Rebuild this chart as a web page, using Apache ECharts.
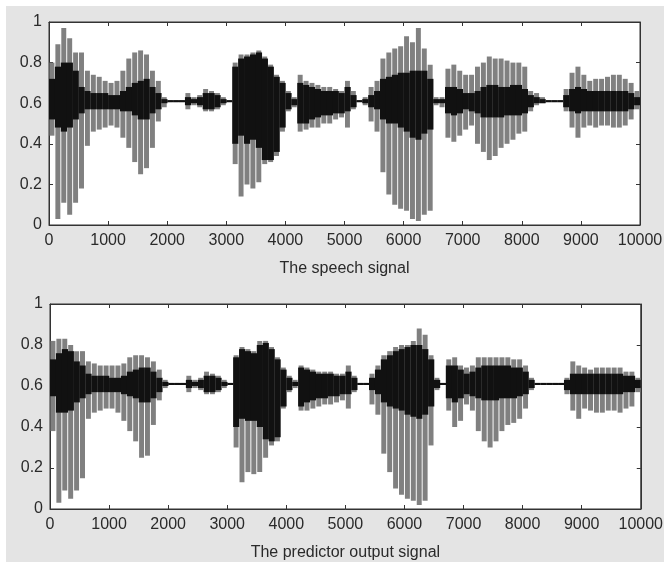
<!DOCTYPE html>
<html>
<head>
<meta charset="utf-8">
<script src="https://cdn.jsdelivr.net/npm/echarts@6/dist/echarts.min.js"></script>
<style>
html,body{margin:0;padding:0;background:#fff;}
#chart{width:666px;height:564px;}
</style>
</head>
<body>
<div id="chart"></div>
<script>
// x axis ticks
const xTicks = [0,1000,2000,3000,4000,5000,6000,7000,8000,9000,10000];
const yTicks = [0,0.2,0.4,0.6,0.8,1];
const binSize = 100; // samples per bin (bin i covers i*100 .. i*100+100)

// Top panel: "The speech signal" — envelope per 100-sample bin
const topMax = [0.80,0.89,0.97,0.92,0.85,0.85,0.76,0.74,0.73,0.71,
  0.70,0.71,0.76,0.82,0.85,0.86,0.84,0.76,0.71,0.63,
  0.615,0.615,0.615,0.65,0.63,0.64,0.67,0.66,0.65,0.63,
  0.615,0.80,0.84,0.84,0.85,0.86,0.83,0.79,0.74,0.71,
  0.66,0.63,0.74,0.71,0.70,0.69,0.68,0.68,0.67,0.66,
  0.71,0.66,0.615,0.63,0.68,0.71,0.82,0.85,0.87,0.88,
  0.93,0.90,0.97,0.87,0.79,0.63,0.63,0.77,0.79,0.76,
  0.74,0.74,0.78,0.80,0.83,0.82,0.82,0.81,0.80,0.80,
  0.78,0.66,0.65,0.63,0.615,0.615,0.615,0.67,0.75,0.78,
  0.74,0.71,0.72,0.72,0.73,0.74,0.74,0.72,0.70,0.66];
const topMin = [0.44,0.03,0.11,0.05,0.11,0.18,0.39,0.46,0.47,0.48,
  0.49,0.48,0.43,0.38,0.31,0.25,0.28,0.38,0.51,0.58,
  0.605,0.605,0.605,0.57,0.59,0.58,0.56,0.56,0.57,0.59,
  0.605,0.30,0.14,0.20,0.18,0.21,0.30,0.31,0.34,0.46,
  0.56,0.58,0.46,0.47,0.48,0.48,0.50,0.50,0.52,0.53,
  0.48,0.57,0.605,0.59,0.51,0.46,0.26,0.15,0.10,0.08,
  0.07,0.03,0.02,0.05,0.07,0.59,0.58,0.43,0.41,0.44,
  0.47,0.49,0.40,0.36,0.32,0.34,0.38,0.40,0.42,0.45,
  0.46,0.56,0.59,0.60,0.605,0.605,0.605,0.56,0.48,0.43,
  0.48,0.49,0.48,0.49,0.49,0.48,0.48,0.49,0.52,0.57];
const topHi = [0.72,0.78,0.80,0.80,0.76,0.68,0.66,0.65,0.65,0.65,
  0.64,0.64,0.66,0.68,0.70,0.71,0.72,0.68,0.65,0.62,
  0.615,0.615,0.615,0.63,0.62,0.63,0.65,0.65,0.64,0.62,
  0.615,0.78,0.82,0.83,0.84,0.85,0.82,0.78,0.73,0.70,
  0.65,0.62,0.70,0.69,0.68,0.67,0.66,0.66,0.66,0.65,
  0.68,0.64,0.615,0.62,0.64,0.66,0.72,0.73,0.74,0.75,
  0.75,0.76,0.76,0.76,0.72,0.62,0.62,0.68,0.68,0.67,
  0.65,0.65,0.66,0.68,0.69,0.69,0.68,0.68,0.69,0.69,
  0.67,0.64,0.63,0.62,0.615,0.615,0.615,0.64,0.67,0.68,
  0.67,0.66,0.66,0.66,0.66,0.66,0.66,0.66,0.65,0.63];
const topLo = [0.52,0.48,0.46,0.48,0.52,0.55,0.57,0.57,0.57,0.57,
  0.57,0.57,0.56,0.56,0.54,0.52,0.52,0.55,0.57,0.60,
  0.605,0.605,0.605,0.59,0.60,0.59,0.57,0.57,0.58,0.60,
  0.605,0.40,0.44,0.40,0.42,0.38,0.32,0.32,0.36,0.48,
  0.57,0.59,0.50,0.50,0.52,0.53,0.54,0.54,0.55,0.55,
  0.56,0.58,0.605,0.60,0.58,0.57,0.52,0.50,0.50,0.48,
  0.46,0.43,0.42,0.45,0.47,0.60,0.60,0.55,0.54,0.55,
  0.57,0.56,0.55,0.53,0.53,0.53,0.53,0.54,0.54,0.54,
  0.55,0.58,0.60,0.60,0.605,0.605,0.605,0.58,0.56,0.55,
  0.56,0.56,0.56,0.56,0.56,0.56,0.56,0.56,0.57,0.59];

// Bottom panel: "The predictor output signal"
const botMax = [0.82,0.83,0.83,0.80,0.77,0.77,0.72,0.71,0.70,0.70,
  0.70,0.70,0.71,0.74,0.75,0.75,0.74,0.72,0.68,0.63,
  0.615,0.615,0.615,0.65,0.63,0.64,0.67,0.66,0.65,0.63,
  0.615,0.75,0.79,0.78,0.77,0.82,0.82,0.79,0.74,0.69,
  0.65,0.63,0.70,0.69,0.68,0.67,0.67,0.67,0.66,0.66,
  0.70,0.65,0.615,0.615,0.66,0.70,0.75,0.77,0.79,0.80,
  0.80,0.82,0.88,0.85,0.75,0.64,0.615,0.73,0.74,0.70,
  0.69,0.70,0.74,0.74,0.74,0.74,0.74,0.74,0.73,0.73,
  0.70,0.64,0.615,0.615,0.615,0.615,0.615,0.64,0.72,0.70,
  0.69,0.68,0.69,0.69,0.69,0.69,0.69,0.67,0.67,0.64];
const botMin = [0.38,0.03,0.09,0.05,0.09,0.15,0.44,0.47,0.48,0.49,
  0.49,0.47,0.43,0.38,0.33,0.25,0.26,0.41,0.53,0.59,
  0.605,0.605,0.605,0.57,0.59,0.58,0.56,0.56,0.57,0.59,
  0.605,0.30,0.13,0.18,0.17,0.18,0.25,0.31,0.33,0.49,
  0.57,0.59,0.48,0.48,0.49,0.50,0.51,0.51,0.52,0.53,
  0.49,0.57,0.605,0.605,0.51,0.46,0.27,0.18,0.10,0.07,
  0.05,0.04,0.02,0.04,0.31,0.58,0.605,0.48,0.40,0.43,
  0.51,0.48,0.38,0.33,0.30,0.33,0.38,0.41,0.42,0.44,
  0.49,0.58,0.605,0.605,0.605,0.605,0.605,0.56,0.48,0.44,
  0.49,0.48,0.47,0.47,0.48,0.48,0.47,0.49,0.50,0.57];
const botHi = [0.73,0.76,0.78,0.77,0.72,0.70,0.66,0.65,0.65,0.65,
  0.64,0.64,0.65,0.67,0.68,0.69,0.69,0.67,0.64,0.62,
  0.615,0.615,0.615,0.63,0.62,0.63,0.65,0.65,0.64,0.62,
  0.615,0.74,0.78,0.77,0.76,0.80,0.81,0.78,0.73,0.68,
  0.64,0.62,0.69,0.68,0.67,0.66,0.66,0.66,0.65,0.65,
  0.67,0.64,0.615,0.615,0.64,0.68,0.73,0.75,0.77,0.78,
  0.79,0.80,0.80,0.78,0.73,0.63,0.615,0.70,0.70,0.68,
  0.66,0.67,0.69,0.70,0.70,0.70,0.70,0.70,0.69,0.69,
  0.67,0.63,0.615,0.615,0.615,0.615,0.615,0.63,0.66,0.66,
  0.66,0.66,0.66,0.66,0.66,0.66,0.66,0.65,0.65,0.63];
const botLo = [0.55,0.47,0.47,0.48,0.52,0.54,0.56,0.57,0.57,0.57,
  0.57,0.57,0.56,0.55,0.54,0.52,0.52,0.54,0.57,0.60,
  0.605,0.605,0.605,0.59,0.60,0.59,0.57,0.57,0.58,0.60,
  0.605,0.40,0.44,0.43,0.43,0.40,0.34,0.33,0.35,0.50,
  0.58,0.60,0.50,0.52,0.53,0.54,0.54,0.55,0.55,0.56,
  0.56,0.58,0.605,0.605,0.58,0.56,0.52,0.50,0.49,0.48,
  0.46,0.45,0.44,0.46,0.50,0.59,0.605,0.54,0.52,0.54,
  0.56,0.55,0.54,0.53,0.53,0.53,0.54,0.54,0.54,0.55,
  0.56,0.59,0.605,0.605,0.605,0.605,0.605,0.58,0.56,0.56,
  0.56,0.56,0.56,0.56,0.56,0.56,0.56,0.57,0.57,0.59];

function buildData(mx, mn, hi, lo) {
  return mx.map((v, i) => [i * binSize, v, mn[i], hi[i], lo[i]]);
}

function renderItem(params, api) {
  const x = api.value(0);
  const pA = api.coord([x, 0]);
  const pB = api.coord([x + binSize, 0]);
  const w = pB[0] - pA[0];
  const yMax = api.coord([x, api.value(1)])[1];
  const yMin = api.coord([x, api.value(2)])[1];
  const yHi = api.coord([x, api.value(3)])[1];
  const yLo = api.coord([x, api.value(4)])[1];
  const cs = params.coordSys;
  const clip = (r) => echarts.graphic.clipRectByRect(r, {x: cs.x, y: cs.y, width: cs.width, height: cs.height});
  const outer = clip({x: pA[0] + w * 0.08, y: yMax, width: w * 0.84, height: Math.max(yMin - yMax, 1)});
  const inner = clip({x: pA[0], y: yHi, width: w + 0.3, height: Math.max(yLo - yHi, 1.6)});
  const children = [];
  if (outer) children.push({type: 'rect', shape: outer, style: {fill: '#808080'}});
  if (inner) children.push({type: 'rect', shape: inner, style: {fill: '#111'}});
  return {type: 'group', children: children};
}

const font = 'Liberation Sans, Arial, sans-serif';
const labelColor = '#2a2a2a';
const axisLineStyle = {color: '#333', width: 1};

function xAx(grid, name, pos, showLabel) {
  return {
    type: 'value', gridIndex: grid, min: xTicks[0], max: xTicks[xTicks.length - 1],
    interval: xTicks[1] - xTicks[0], position: pos,
    name: showLabel ? name : '', nameLocation: 'middle', nameGap: 36,
    nameTextStyle: {fontFamily: font, fontSize: 16, color: labelColor},
    axisLine: {show: true, onZero: false, lineStyle: axisLineStyle},
    axisTick: {show: true, inside: true, length: 4, lineStyle: axisLineStyle},
    axisLabel: {show: showLabel, fontFamily: font, fontSize: 16, color: labelColor, margin: 8,
      formatter: (v) => String(v)},
    splitLine: {show: false}
  };
}
function yAx(grid, pos, showLabel) {
  return {
    type: 'value', gridIndex: grid, min: yTicks[0], max: yTicks[yTicks.length - 1],
    interval: yTicks[1] - yTicks[0], position: pos,
    axisLine: {show: true, onZero: false, lineStyle: axisLineStyle},
    axisTick: {show: true, inside: true, length: 4, lineStyle: axisLineStyle},
    axisLabel: {show: showLabel, fontFamily: font, fontSize: 16, color: labelColor, margin: 7,
      formatter: (v) => String(+v.toFixed(1))},
    splitLine: {show: false}
  };
}

const chart = echarts.init(document.getElementById('chart'), null, {renderer: 'canvas'});
chart.setOption({
  animation: false,
  backgroundColor: '#fff',
  graphic: [{type: 'rect', z: -10, silent: true, shape: {x: 6, y: 6, width: 658, height: 556}, style: {fill: '#e4e4e4'}}],
  grid: [
    {left: 49, top: 22, width: 591, height: 203, show: true, backgroundColor: '#fff', borderColor: '#333', borderWidth: 1},
    {left: 50, top: 304, width: 592, height: 205, show: true, backgroundColor: '#fff', borderColor: '#333', borderWidth: 1}
  ],
  xAxis: [
    xAx(0, 'The speech signal', 'bottom', true),
    xAx(0, '', 'top', false),
    xAx(1, 'The predictor output signal', 'bottom', true),
    xAx(1, '', 'top', false)
  ],
  yAxis: [
    yAx(0, 'left', true),
    yAx(0, 'right', false),
    yAx(1, 'left', true),
    yAx(1, 'right', false)
  ],
  series: [
    {type: 'custom', xAxisIndex: 0, yAxisIndex: 0, renderItem: renderItem,
      data: buildData(topMax, topMin, topHi, topLo), encode: {x: 0, y: [1, 2]}},
    {type: 'custom', xAxisIndex: 2, yAxisIndex: 2, renderItem: renderItem,
      data: buildData(botMax, botMin, botHi, botLo), encode: {x: 0, y: [1, 2]}}
  ]
});
</script>
</body>
</html>
